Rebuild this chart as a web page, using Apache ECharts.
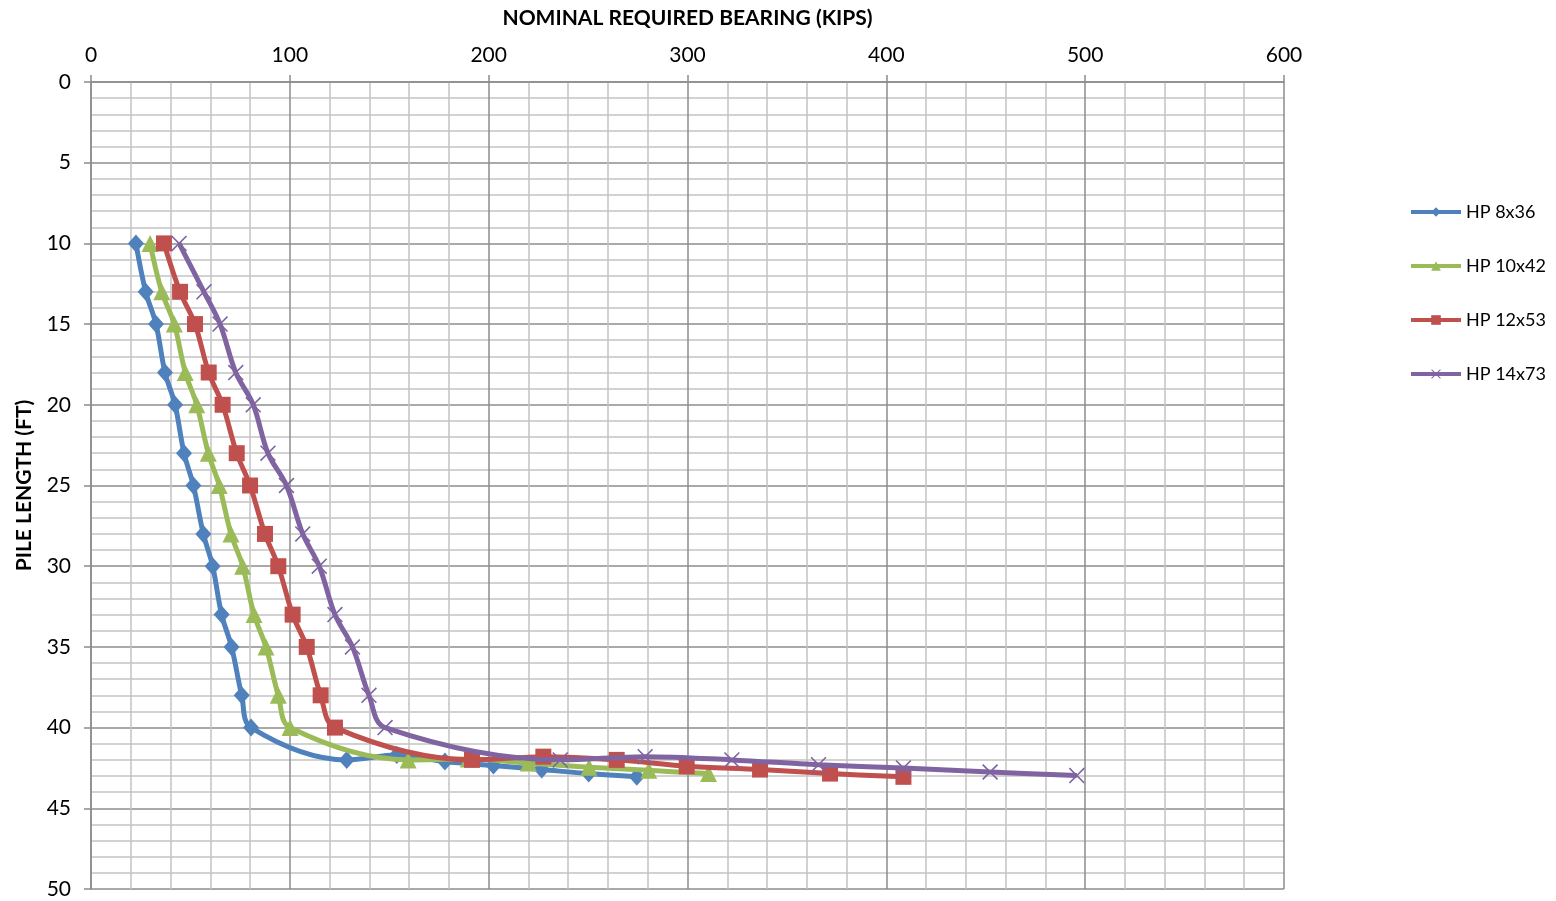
<!DOCTYPE html>
<html>
<head>
<meta charset="utf-8">
<title>Nominal Required Bearing vs Pile Length</title>
<script src="https://cdn.jsdelivr.net/npm/echarts@6/dist/echarts.min.js"></script>
<style>
  html, body { margin: 0; padding: 0; background: #ffffff; }
  #chart { width: 1556px; height: 901px; }
</style>
</head>
<body>
<div id="chart"></div>
<script>
// Nominal required bearing (kips) against pile length (ft) for each H-pile section
const seriesNames = ['HP 8x36', 'HP 10x42', 'HP 12x53', 'HP 14x73'];

const hp8x36Bearing = [22.6, 27.5, 32.7, 37.2, 42.3, 46.8, 51.5, 56.5, 61.2, 65.7, 70.7, 75.8, 80.5, 128.6, 153.8, 178.0, 202.4, 226.7, 250.3, 274.5];
const hp8x36Length  = [10, 13, 15, 18, 20, 23, 25, 28, 30, 33, 35, 38, 40, 42.0, 41.7, 42.1, 42.35, 42.6, 42.85, 43.05];

const hp10x42Bearing = [29.7, 35.6, 41.9, 47.4, 53.2, 59.0, 64.5, 70.4, 76.3, 82.0, 88.0, 94.2, 100.1, 159.5, 189.8, 220.0, 250.5, 280.5, 310.6];
const hp10x42Length  = [10, 13, 15, 18, 20, 23, 25, 28, 30, 33, 35, 38, 40, 42.0, 41.95, 42.2, 42.45, 42.65, 42.85];

const hp12x53Bearing = [36.7, 44.8, 52.3, 59.2, 66.2, 73.3, 80.0, 87.5, 94.2, 101.4, 108.5, 115.5, 122.7, 191.6, 227.5, 264.4, 299.6, 336.5, 371.7, 408.6];
const hp12x53Length  = [10, 13, 15, 18, 20, 23, 25, 28, 30, 33, 35, 38, 40, 42.0, 41.8, 42.0, 42.4, 42.6, 42.85, 43.05];

const hp14x73Bearing = [44.3, 56.8, 64.9, 72.8, 81.6, 89.0, 98.3, 106.5, 114.8, 122.7, 131.5, 139.8, 147.9, 236.0, 278.7, 322.3, 365.9, 408.6, 452.2, 495.8];
const hp14x73Length  = [10, 13, 15, 18, 20, 23, 25, 28, 30, 33, 35, 38, 40, 42.0, 41.8, 42.0, 42.3, 42.5, 42.75, 42.97];

const bearingTicks = [0, 100, 200, 300, 400, 500, 600];
const lengthTicks = [0, 5, 10, 15, 20, 25, 30, 35, 40, 45, 50];

const colors = ['#4F81BD', '#9BBB59', '#C0504D', '#8064A2'];
const crossPath = 'path://M0,1L1,0L7,6L13,0L14,1L8,7L14,13L13,14L7,8L1,14L0,13L6,7Z';
const symbols = ['diamond', 'triangle', 'rect', crossPath];
const symbolSizes = [[16, 18], 17, 16, 16];

function pairs(xs, ys) {
  return xs.map((x, i) => [x, ys[i]]);
}

const dataSets = [
  pairs(hp8x36Bearing, hp8x36Length),
  pairs(hp10x42Bearing, hp10x42Length),
  pairs(hp12x53Bearing, hp12x53Length),
  pairs(hp14x73Bearing, hp14x73Length)
];

const FONT = 'Lato, "Open Sans", sans-serif';
const minorGrid = { show: true, lineStyle: { color: '#c4c4c4', width: 1.5 } };
const majorGrid = { show: true, lineStyle: { color: '#8c8c8c', width: 1.5 } };

const chart = echarts.init(document.getElementById('chart'), null, { renderer: 'canvas' });

chart.setOption({
  animation: false,
  backgroundColor: '#ffffff',
  color: colors,
  grid: { left: 91, top: 82, right: 272, bottom: 12, containLabel: false },
  legend: {
    orient: 'vertical',
    left: 1404,
    top: 198,
    itemWidth: 50,
    itemHeight: 12,
    itemGap: 36,
    data: seriesNames,
    lineStyle: { width: 4 },
    textStyle: { fontFamily: FONT, fontSize: 18, color: '#000000' }
  },
  xAxis: {
    type: 'value',
    position: 'top',
    min: bearingTicks[0],
    max: bearingTicks[bearingTicks.length - 1],
    interval: 100,
    name: 'NOMINAL REQUIRED BEARING (KIPS)',
    nameLocation: 'middle',
    nameGap: 53,
    nameTextStyle: { fontFamily: FONT, fontSize: 21, fontWeight: 'bold', color: '#000000' },
    axisLine: { show: true, lineStyle: { color: '#8c8c8c', width: 1.5 } },
    axisTick: { show: true, length: 7, lineStyle: { color: '#8c8c8c', width: 1.5 } },
    axisLabel: { fontFamily: FONT, fontSize: 21, color: '#000000', margin: 16 },
    splitLine: majorGrid,
    minorTick: { show: false, splitNumber: 5 },
    minorSplitLine: minorGrid
  },
  yAxis: {
    type: 'value',
    inverse: true,
    min: lengthTicks[0],
    max: lengthTicks[lengthTicks.length - 1],
    interval: 5,
    name: 'PILE LENGTH (FT)',
    nameLocation: 'middle',
    nameRotate: 90,
    nameGap: 56,
    nameTextStyle: { fontFamily: FONT, fontSize: 21, fontWeight: 'bold', color: '#000000' },
    axisLine: { show: true, lineStyle: { color: '#8c8c8c', width: 1.5 } },
    axisTick: { show: true, length: 7, lineStyle: { color: '#8c8c8c', width: 1.5 } },
    axisLabel: { fontFamily: FONT, fontSize: 21, color: '#000000', margin: 20 },
    splitLine: majorGrid,
    minorTick: { show: false, splitNumber: 5 },
    minorSplitLine: minorGrid
  },
  series: seriesNames.map((name, i) => ({
    name: name,
    type: 'line',
    data: dataSets[i],
    smooth: 0.35,
    symbol: symbols[i],
    symbolSize: symbolSizes[i],
    showAllSymbol: true,
    lineStyle: { width: 5, color: colors[i] },
    itemStyle: { color: colors[i] },
    z: 2 + i
  }))
});
</script>
</body>
</html>
